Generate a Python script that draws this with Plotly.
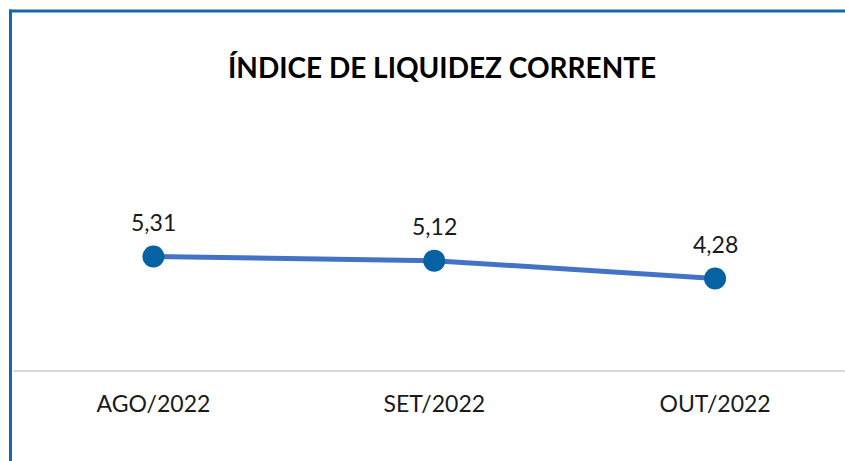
import plotly.graph_objects as go

categories = ["AGO/2022", "SET/2022", "OUT/2022"]
values = [5.31, 5.12, 4.28]
labels = ["5,31", "5,12", "4,28"]
title = "ÍNDICE DE LIQUIDEZ CORRENTE"

W, H = 845, 461
x_left = 13
y_zero, y_top = 370, 150
px_per_cat = 281
x_hi = 2.5 - (855.5 - 845) / px_per_cat

fig = go.Figure()
fig.add_trace(go.Scatter(
    x=categories, y=values, mode="lines+markers",
    line=dict(color="#4472C4", width=5),
    marker=dict(color="#0563A3", size=22),
    hoverinfo="skip", showlegend=False,
))
for c, v, t in zip(categories, values, labels):
    fig.add_annotation(x=c, y=v, text=t, showarrow=False, yshift=35,
                       font=dict(family="Lato", size=23, color="#1a1a1a"))

xs = lambda px: px / W
ys = lambda py: (H - py) / H

fig.add_annotation(xref="paper", yref="paper", x=xs(442),
                   y=ys(67), yanchor="middle", xanchor="center",
                   text="<b>" + title + "</b>", showarrow=False,
                   font=dict(family="Lato", size=28, color="#000000"))

blue = "#1467A8"
fig.add_shape(type="line", xref="paper", yref="paper", x0=xs(9), x1=xs(845), y0=ys(11), y1=ys(11),
              line=dict(color=blue, width=3))
fig.add_shape(type="line", xref="paper", yref="paper", x0=xs(10.5), x1=xs(10.5), y0=ys(9.5), y1=ys(461),
              line=dict(color=blue, width=3))

fig.update_layout(
    width=W, height=H,
    margin=dict(l=0, r=0, t=0, b=0),
    paper_bgcolor="white", plot_bgcolor="white",
    xaxis=dict(domain=[x_left / W, 1], range=[-0.5, x_hi], showgrid=False,
               showline=True, linecolor="#D9D9D9", linewidth=2, zeroline=False,
               ticks="", ticklabelstandoff=12,
               tickfont=dict(family="Lato", size=23, color="#1a1a1a")),
    yaxis=dict(domain=[(H - y_zero) / H, (H - y_top) / H],
               range=[0, (y_zero - y_top) / 21.36],
               visible=False, showgrid=False, zeroline=False),
)
fig.write_html("out.html", config={"displayModeBar": False},
               post_script="document.body.style.margin='0';")
